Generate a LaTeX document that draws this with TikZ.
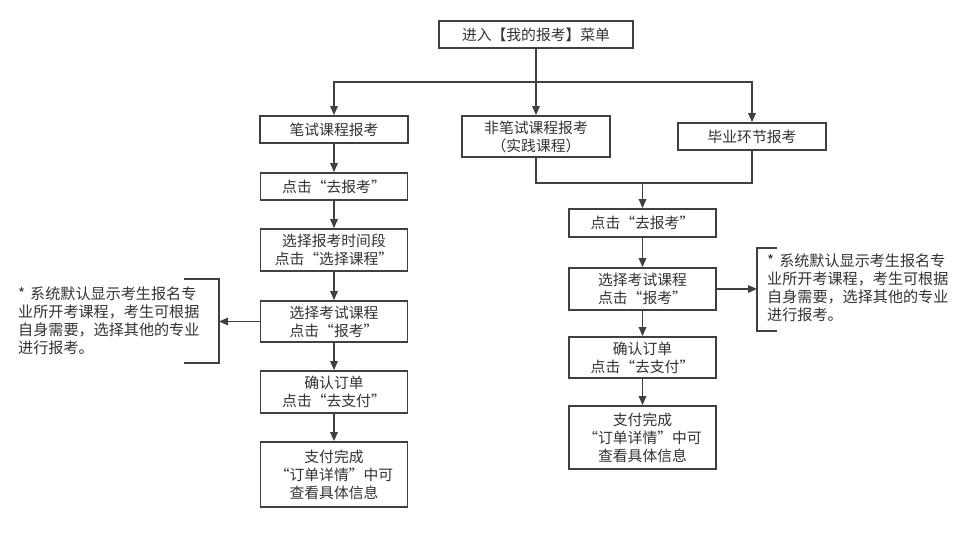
\documentclass[tikz,border=0pt]{standalone}
\usepackage{fontspec}
\setmainfont{Noto Sans CJK SC}
\usetikzlibrary{arrows.meta}
\definecolor{ln}{HTML}{404040}
\definecolor{tx}{HTML}{333333}
\begin{document}
\begin{tikzpicture}[x=1pt,y=-1pt,
  box/.style={draw=ln,line width=1.8pt,inner sep=0pt,align=center,text=tx,
    font=\fontsize{14.8}{18}\selectfont,minimum width=147pt},
  conn/.style={draw=ln,line width=1.4pt},
  arr/.style={conn,-{Triangle[length=9pt,width=7.5pt]}},
  note/.style={inner sep=0pt,align=left,text=tx,font=\fontsize{15.1}{17.8}\selectfont,anchor=north west}]
\useasboundingbox (0,0) rectangle (971,538);
\fill[white] (0,0) rectangle (971,538);
% top
\node[box,minimum width=194pt,minimum height=27pt] (top) at (536,34.5) {进入【我的报考】菜单};
% second row
\node[box,minimum width=148pt,minimum height=27pt] (w) at (334,129.5) {笔试课程报考};
\node[box,minimum width=148pt,minimum height=41pt] (nw) at (536,136.5) {非笔试课程报考\\（实践课程）};
\node[box,minimum width=148pt,minimum height=27pt] (g) at (752,136.5) {毕业环节报考};
% left column
\node[box,minimum height=27pt] (l1) at (334,186.5) {点击“去报考”};
\node[box,minimum height=42pt] (l2) at (334,250) {选择报考时间段\\点击“选择课程”};
\node[box,minimum height=41pt] (l3) at (334,321.5) {选择考试课程\\点击“报考”};
\node[box,minimum height=42pt] (l4) at (334,392) {确认订单\\点击“去支付”};
\node[box,minimum height=65pt] (l5) at (334,474.5) {支付完成\\“订单详情”中可\\查看具体信息};
% right column
\node[box,minimum height=28pt] (r1) at (642.5,223) {点击“去报考”};
\node[box,minimum height=42pt] (r2) at (642.5,289) {选择考试课程\\点击“报考”};
\node[box,minimum height=41pt] (r3) at (642.5,357.5) {确认订单\\点击“去支付”};
\node[box,minimum height=63pt] (r4) at (642.5,437.5) {支付完成\\“订单详情”中可\\查看具体信息};
% notes
\node[note] (ln) at (18,287) {*\hspace{5pt}系统默认显示考生报名专\\业所开考课程，考生可根据\\自身需要，选择其他的专业\\进行报考。};
\node[note] (rn) at (767,254) {*\hspace{5pt}系统默认显示考生报名专\\业所开考课程，考生可根据\\自身需要，选择其他的专业\\进行报考。};
% brackets
\coordinate (lbt) at (184,279);
\coordinate (lbm) at (219,321.5);
\coordinate (lbb) at (184,363);
\draw[conn] (lbt) -| (lbm) |- (lbb);
\coordinate (rbt) at (777,248);
\coordinate (rbm) at (757,289);
\coordinate (rbb) at (777,331);
\draw[conn] (rbt) -| (rbm) |- (rbb);
% connectors
\coordinate (j1) at (536,82);
\draw[conn] (top.south) -- (j1);
\draw[arr] (j1) -| (w.north);
\draw[arr] (j1) -- (nw.north);
\draw[arr] (j1) -| (g.north);
\coordinate (j2) at (642.5,183);
\draw[conn] (nw.south) |- (j2) -| (g.south);
\draw[arr] (j2) -- (r1.north);
\draw[arr] (w.south) -- (l1.north);
\draw[arr] (l1.south) -- (l2.north);
\draw[arr] (l2.south) -- (l3.north);
\draw[arr] (l3.south) -- (l4.north);
\draw[arr] (l4.south) -- (l5.north);
\draw[arr] (r1.south) -- (r2.north);
\draw[arr] (r2.south) -- (r3.north);
\draw[arr] (r3.south) -- (r4.north);
\draw[arr] (l3.west) -- (lbm);
\draw[arr] (r2.east) -- (rbm);
\end{tikzpicture}
\end{document}
